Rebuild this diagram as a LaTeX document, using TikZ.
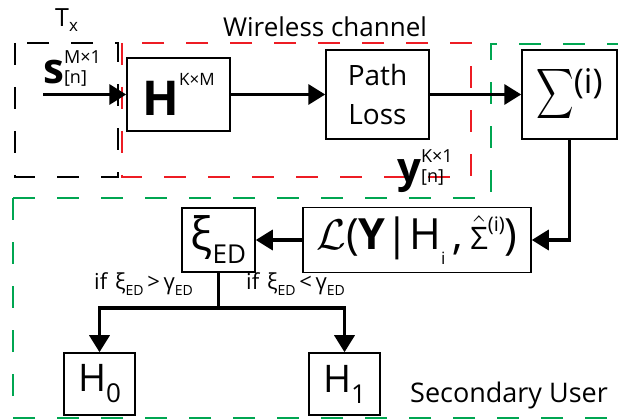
\RequirePackage{fix-cm}
\documentclass[tikz,border=0pt]{standalone}
\usepackage{graphicx}
\usepackage{fontspec}
\setmainfont{Open Sans}
\usetikzlibrary{arrows.meta}

\definecolor{sured}{RGB}{237,28,36}
\definecolor{sugreen}{RGB}{0,166,81}

\newcommand{\fs}[1]{\fontsize{#1}{#1}\selectfont}
\newcommand{\lift}[3]{\raisebox{#2}{\fs{#1}#3}}
\newcommand{\supsub}[4]{{\fontsize{#1}{#2}\selectfont\begin{tabular}[b]{@{}l@{}}#3\\{}#4\end{tabular}}}
\newcommand{\bigsum}{\scalebox{2.6}[3.5]{\normalsize$\displaystyle\sum$}}

\begin{document}
\begin{tikzpicture}[
    x=1pt, y=-1pt,
    block/.style={draw, line width=1.5pt, rectangle, inner sep=0pt, align=center},
    line/.style={draw, line width=3.5pt, -{Triangle[length=17pt,width=20pt]}},
    plain/.style={draw, line width=3.5pt},
    region/.style={line width=1.5pt, dash pattern=on 22pt off 22pt},
    lab/.style={inner sep=0pt, anchor=base west}
]
\useasboundingbox (0,0) rectangle (618,419);

% dashed regions
\draw[region, black] (15,43) rectangle (118,177);
\draw[region, sured] (122,43) rectangle (471,177);
\draw[region, sugreen] (13,198) -- (491,198) -- (491,44) -- (640,44) -- (640,418) -- (13,418) -- cycle;

\node[block, minimum width=103pt, minimum height=73pt] (hmat) at (178.5,94.5) {{\fs{48}\bfseries H}\lift{17}{30pt}{K×M}};
\node[block, minimum width=103pt, minimum height=89pt, font=\fontsize{28}{39}\selectfont] (loss) at (377.5,94.5) {Path\\Loss};
\node[block, minimum width=95pt, minimum height=89pt] (sumbox) at (569.5,94.5) {\bigsum\lift{34}{10pt}{(i)}};

\node[block, minimum width=228pt, minimum height=65pt] (lik) at (417,240) {\fs{43}$\mathcal{L}$({\bfseries Y}|H\lift{17}{-15pt}{i}\,,\,$\hat{\mbox{\fs{31}Σ}}$\lift{20}{18pt}{(i)})};
\node[block, minimum width=73pt, minimum height=64pt] (xied) at (218.5,240) {{\fs{46}ξ}\lift{26}{-13pt}{ED}};

\node[block, minimum width=71pt, minimum height=62pt] (hzero) at (99.5,384) {{\fs{38}H}\lift{26}{-11pt}{0}};
\node[block, minimum width=71pt, minimum height=62pt] (hone) at (344.5,384) {{\fs{38}H}\lift{26}{-11pt}{1}};

\coordinate (txin) at (43,94.5);
\coordinate (split) at (218.5,308);

% labels
\node[lab] (txlab) at (55,27) {\fs{25}T\lift{17}{-5pt}{x}};
\node[lab] (siglab) at (43,84) {{\fs{42}\bfseries s}\supsub{18}{20}{M×1}{[n]}};
\node[lab] (ylab) at (397,183) {{\fs{42}\bfseries y}\supsub{18}{20}{K×1}{[n]}};
\node[inner sep=0pt, anchor=base] (chanlab) at (325,37) {\fs{26}Wireless channel};
\node[lab] (sulab) at (410,402) {\fs{27}Secondary User};
\node[lab] (gtlab) at (94,290) {\fs{22}if\hspace{8pt}ξ\lift{14}{-6pt}{ED}\,>\,γ\lift{14}{-6pt}{ED}};
\node[lab] (ltlab) at (246,290) {\fs{22}if\hspace{8pt}ξ\lift{14}{-6pt}{ED}\,<\,γ\lift{14}{-6pt}{ED}};

% connectors
\draw[line] (txin) -- (hmat.west);
\draw[line] (hmat.east) -- (loss.west);
\draw[line] (loss.east) -- (sumbox.west);
\draw[line] (sumbox.south) |- (lik.east);
\draw[line] (lik.west) -- (xied.east);
\draw[plain] (xied.south) -- (split);
\draw[line] (split) -| (hzero.north);
\draw[line] (split) -| (hone.north);

\end{tikzpicture}
\end{document}
